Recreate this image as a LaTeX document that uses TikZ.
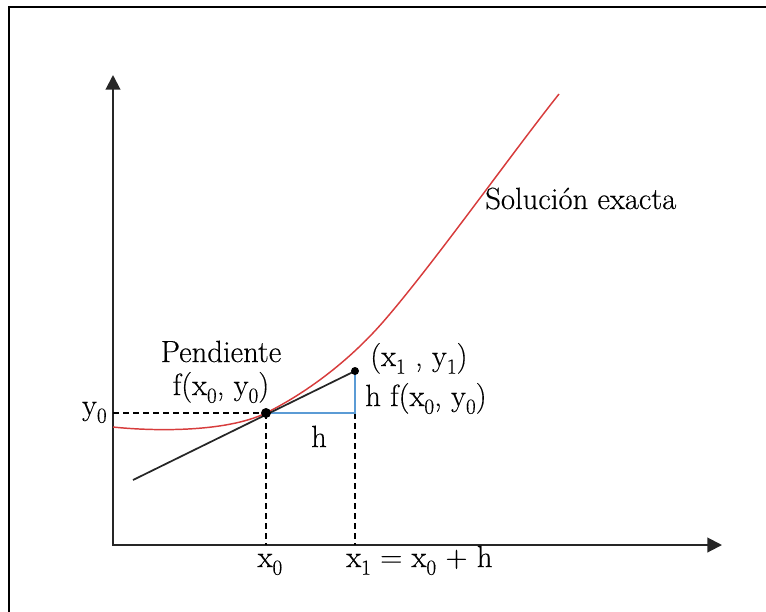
\documentclass[tikz,border=0pt]{standalone}
\usepackage{fontspec}
\setmainfont{Latin Modern Roman}[FakeBold=0.35]
\usetikzlibrary{arrows.meta}
\definecolor{curvered}{RGB}{215,60,60}
\definecolor{stepblue}{RGB}{91,155,213}
\newcommand\lowsub[1]{\raisebox{-0.25em}{\fontsize{16}{16}\selectfont #1}}
\begin{document}
\begin{tikzpicture}[x=0.75pt,y=-0.75pt,
  lbl/.style={inner sep=0pt, font=\fontsize{23}{27}\selectfont\addfontfeature{FakeBold=0.35}},
  axis/.style={line width=1.5pt, black!85, line join=miter,
    {Triangle[length=11pt,width=11pt]}-{Triangle[length=11pt,width=11pt]}},
  guide/.style={black, line width=1.1pt, dash pattern=on 4.5pt off 3pt},
  stepline/.style={stepblue, line width=1pt},
  tangent/.style={black!85, line width=1.3pt},
  exact/.style={curvered, line width=1.1pt},
  bigdot/.style={circle, fill=black, inner sep=0pt, minimum size=7.5pt},
  smalldot/.style={circle, fill=black, inner sep=0pt, minimum size=6pt}]
\useasboundingbox (0,0) rectangle (766,611);
\begin{scope}
  \clip (0,0) rectangle (766,611);
  \draw[line width=2.2pt] (9,650) |- (800,7);
\end{scope}
% key points
\coordinate (O) at (113,545);
\coordinate (Ytop) at (113,75);
\coordinate (Xend) at (722,545);
\coordinate (P0) at (266,413);
\coordinate (P1) at (355,371);
\coordinate (C) at (355,413);
\coordinate (Y0) at (113,413);
\coordinate (X0) at (266,545);
\coordinate (X1) at (355,545);
\coordinate (T0) at (133,480);
\coordinate (R0) at (113,427);
\coordinate (R1) at (383,322);
\coordinate (R2) at (559,94);
% axes
\draw[axis] (Ytop) |- (Xend);
% exact solution
\draw[exact] (R0) .. controls (150,431) and (225,433) .. (P0)
  .. controls (306,393) and (348,362) .. (R1)
  .. controls (433,264.5) and (509,157) .. (R2);
% guides
\draw[guide] (Y0) -- (P0);
\draw[guide] (P0) -- (X0);
\draw[guide] (C) -- (X1);
% Euler step
\draw[stepline] (P0) -- (C) -- (P1);
\draw[tangent] (T0) -- (P1);
\node[bigdot] (p0) at (P0) {};
\node[smalldot] (p1) at (P1) {};
% labels
\node[lbl, anchor=base west] (sol) at (485,209) {Solución exacta};
\node[lbl, anchor=base] (pend) at (221,362) {Pendiente};
\node[lbl, anchor=base] (fxy) at (221,395) {f(x\lowsub{0}, y\lowsub{0})};
\node[lbl, anchor=base west] (pt1) at (370,366) {(x\lowsub{1} , y\lowsub{1})};
\node[lbl, anchor=base west] (hf) at (365,406) {h f(x\lowsub{0}, y\lowsub{0})};
\node[lbl, anchor=base east] (ylab) at (107,415) {y\lowsub{0}};
\node[lbl, anchor=base] (hlab) at (319,447) {h};
\node[lbl, anchor=base] (x0lab) at (270,567) {x\lowsub{0}};
\node[lbl, anchor=base west] (x1lab) at (346,567) {x\lowsub{1} = x\lowsub{0} + h};
\end{tikzpicture}
\end{document}
